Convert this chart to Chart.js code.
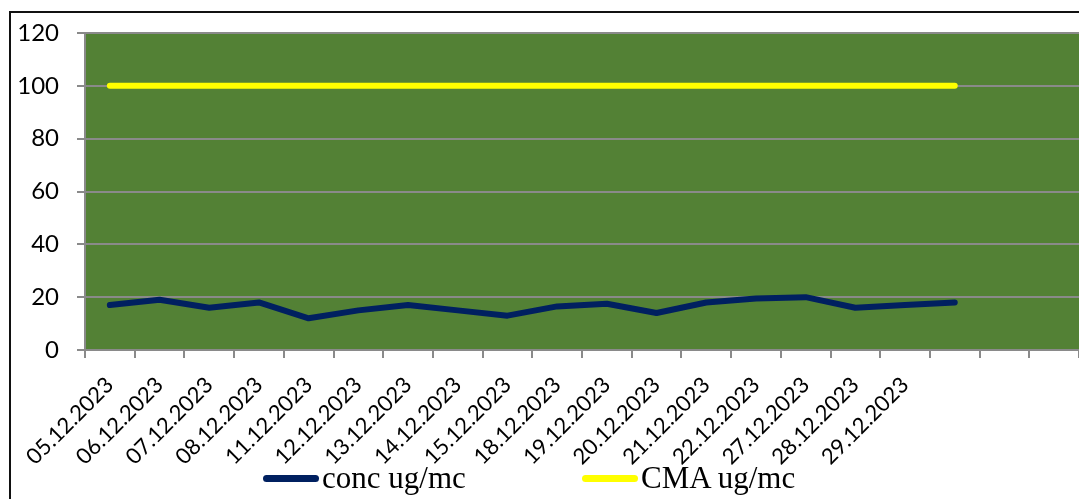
<!DOCTYPE html>
<html>
<head>
<meta charset="utf-8">
<script src="https://cdn.jsdelivr.net/npm/chart.js@4.4.0/dist/chart.umd.min.js"></script>
<style>
  html, body { margin: 0; padding: 0; background: #fff; overflow: hidden; }
  #wrap { position: relative; width: 1079px; height: 499px; }
  #frame { position: absolute; left: 9px; top: 11px; width: 1200px; height: 600px;
           border-left: 2px solid #111; border-top: 2px solid #111; }
  #chart { position: absolute; left: 0; top: 0; }
  .leg { position: absolute; top: 458px; font: 31px "Liberation Serif", "Times New Roman", serif;
         color: #000; white-space: nowrap; line-height: 40px; }
  .leg i { display: inline-block; width: 56px; height: 7px; border-radius: 3.5px;
           vertical-align: middle; margin-right: 3px; position: relative; top: -2px; }
</style>
</head>
<body>
<div id="wrap">
  <div id="frame"></div>
  <canvas id="chart" width="1079" height="499"></canvas>
  <div id="legend"></div>
</div>
<script>
// categories (last three slots have no label in the original)
const dates = ["05.12.2023", "06.12.2023", "07.12.2023", "08.12.2023", "11.12.2023",
  "12.12.2023", "13.12.2023", "14.12.2023", "15.12.2023", "18.12.2023", "19.12.2023",
  "20.12.2023", "21.12.2023", "22.12.2023", "27.12.2023", "28.12.2023", "29.12.2023",
  "", "", ""];
const conc = [17, 19, 16, 18, 12, 15, 17, 15, 13, 16.5, 17.5, 14, 18, 19.5, 20, 16, 17, 18];
const cma = [100, 100, 100, 100, 100, 100, 100, 100, 100, 100, 100, 100, 100, 100, 100, 100, 100, 100];
const yTicks = [0, 20, 40, 60, 80, 100, 120];

const plotBg = {
  id: 'plotBg',
  beforeDraw(chart) {
    const a = chart.chartArea, ctx = chart.ctx;
    ctx.save();
    ctx.fillStyle = '#538135';
    ctx.fillRect(a.left, a.top, a.right - a.left, a.bottom - a.top);
    ctx.restore();
  }
};

const chart = new Chart(document.getElementById('chart'), {
  type: 'line',
  data: {
    labels: dates,
    datasets: [
      { label: 'conc ug/mc', data: conc, borderColor: '#002060', backgroundColor: '#002060',
        borderWidth: 6, pointRadius: 0, tension: 0, borderCapStyle: 'round', borderJoinStyle: 'round' },
      { label: 'CMA ug/mc', data: cma, borderColor: '#FFFF00', backgroundColor: '#FFFF00',
        borderWidth: 6, pointRadius: 0, tension: 0, borderCapStyle: 'round', borderJoinStyle: 'round' }
    ]
  },
  options: {
    responsive: false,
    animation: false,
    layout: { padding: { top: 33, right: 0, left: 0, bottom: 0 } },
    plugins: { legend: { display: false }, tooltip: { enabled: false } },
    scales: {
      x: {
        offset: true,
        grid: { offset: true, drawOnChartArea: false, drawTicks: true, tickLength: 8, color: '#8a8a8a', lineWidth: 2 },
        border: { color: '#8a8a8a', width: 2 },
        ticks: { autoSkip: false, minRotation: 45, maxRotation: 45, padding: 14, color: '#000',
                 font: { family: 'Lato', size: 22 } },
        afterFit(s) { s.height = 149; s.paddingLeft = 0; s.paddingRight = 0; }
      },
      y: {
        min: 0, max: 120,
        afterBuildTicks(s) { s.ticks = yTicks.map(v => ({ value: v })); },
        grid: { color: '#8a8a8a', lineWidth: 2, tickLength: 8 },
        border: { color: '#8a8a8a', width: 2 },
        ticks: { padding: 18, color: '#000', font: { family: 'Lato', size: 24 } },
        afterFit(s) { s.width = 85; }
      }
    }
  },
  plugins: [plotBg]
});

// legend as text below the chart
const legPos = [263, 582];
const legend = document.getElementById('legend');
chart.data.datasets.forEach((ds, i) => {
  const d = document.createElement('div');
  d.className = 'leg';
  d.style.left = legPos[i] + 'px';
  d.innerHTML = '<i style="background:' + ds.borderColor + '"></i>' + ds.label;
  legend.appendChild(d);
});
</script>
</body>
</html>
